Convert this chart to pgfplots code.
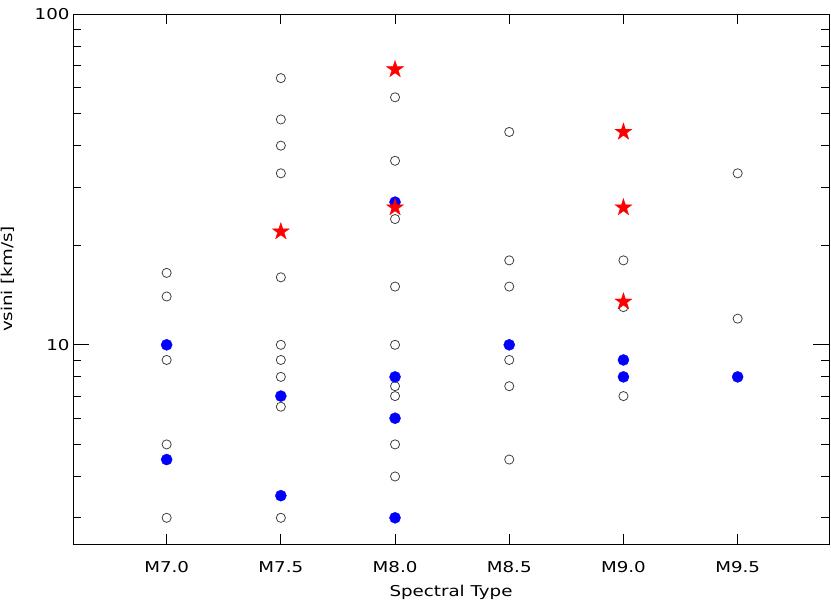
\documentclass[border=0pt]{standalone}
\usepackage{fontspec}
\setmainfont{DejaVu Sans}[FakeStretch=1.22]
\usepackage{pgfplots}
\usepackage{pgfplotstable}
\pgfplotsset{compat=1.18}

% filled five-point star, outer radius 9bp
\pgfdeclareplotmark{fstar}{%
  \pgfpathmoveto{\pgfqpoint{0bp}{9bp}}%
  \pgfpathlineto{\pgfqpoint{-2.02bp}{2.78bp}}%
  \pgfpathlineto{\pgfqpoint{-8.56bp}{2.78bp}}%
  \pgfpathlineto{\pgfqpoint{-3.27bp}{-1.06bp}}%
  \pgfpathlineto{\pgfqpoint{-5.29bp}{-7.28bp}}%
  \pgfpathlineto{\pgfqpoint{0bp}{-3.44bp}}%
  \pgfpathlineto{\pgfqpoint{5.29bp}{-7.28bp}}%
  \pgfpathlineto{\pgfqpoint{3.27bp}{-1.06bp}}%
  \pgfpathlineto{\pgfqpoint{8.56bp}{2.78bp}}%
  \pgfpathlineto{\pgfqpoint{2.02bp}{2.78bp}}%
  \pgfpathclose
  \pgfusepathqfillstroke}

\pgfplotstableread{
x y
7.0 16.5
7.0 14
7.0 9
7.0 5
7.0 3
7.5 64
7.5 48
7.5 40
7.5 33
7.5 16
7.5 10
7.5 9
7.5 8
7.5 6.5
7.5 3
8.0 56
8.0 36
8.0 24
8.0 15
8.0 10
8.0 7.5
8.0 7
8.0 5
8.0 4
8.5 44
8.5 18
8.5 15
8.5 9
8.5 7.5
8.5 4.5
9.0 18
9.0 13
9.0 7
9.5 33
9.5 12
}\opendata

\pgfplotstableread{
x y
7.0 10
7.0 4.5
7.5 7
7.5 3.5
8.0 27
8.0 8
8.0 6
8.0 3
8.5 10
9.0 9
9.0 8
9.5 8
}\bluedata

\pgfplotstableread{
x y
7.5 22
8.0 68
8.0 26
9.0 44
9.0 26
9.0 13.5
}\stardata

\newcommand{\lblfont}{\fontsize{15}{18}\selectfont}

\begin{document}
\begin{tikzpicture}
\pgfplotsset{every axis/.append style={
  scale only axis, width=756bp, height=530bp,
  xmin=6.59, xmax=9.9, ymin=2.5, ymax=100, ymode=log,
  tick align=inside, axis line style={line width=0.9bp, black},
  every tick/.style={black, line width=0.9bp},
  tick label style={font=\lblfont},
  label style={font=\lblfont},
  /pgf/number format/assume math mode=true}}
\begin{axis}[name=main,
  xtick={7,7.5,8,8.5,9,9.5},
  xticklabels={M7.0,M7.5,M8.0,M8.5,M9.0,M9.5},
  ymajorticks=false, yminorticks=false,
  major tick length=10bp,
  xticklabel style={anchor=base, yshift=-28bp},
  xlabel={Spectral Type},
  xlabel style={at={(axis description cs:0.5,0)}, anchor=base, yshift=-52bp},
  ylabel={vsini [km/s]},
  ylabel style={at={(axis description cs:-0.0767,0.5)}, anchor=south, inner sep=0pt},
  clip=false]
\addplot[only marks, mark=o, mark size=4.6pt,
  mark options={draw=black!75, line width=0.8pt}] table {\opendata};
\addplot[only marks, mark=*, mark size=5.6pt,
  mark options={fill=blue, draw=blue, line width=0.3pt}] table {\bluedata};
\addplot[only marks, mark=fstar,
  mark options={fill=red, draw=red, line width=0.3pt}] table {\stardata};
\end{axis}
\begin{axis}[
  axis line style={draw=none},
  xmajorticks=false, xminorticks=false,
  ytick={10,100}, yticklabels={10,100},
  minor ytick={3,4,5,6,7,8,9,20,30,40,50,60,70,80,90},
  major tick length=16bp, minor tick length=8bp]
\end{axis}
\path ([shift={(-73bp,-57bp)}]main.south west) rectangle ([shift={(2bp,14bp)}]main.north east);
\end{tikzpicture}
\end{document}
